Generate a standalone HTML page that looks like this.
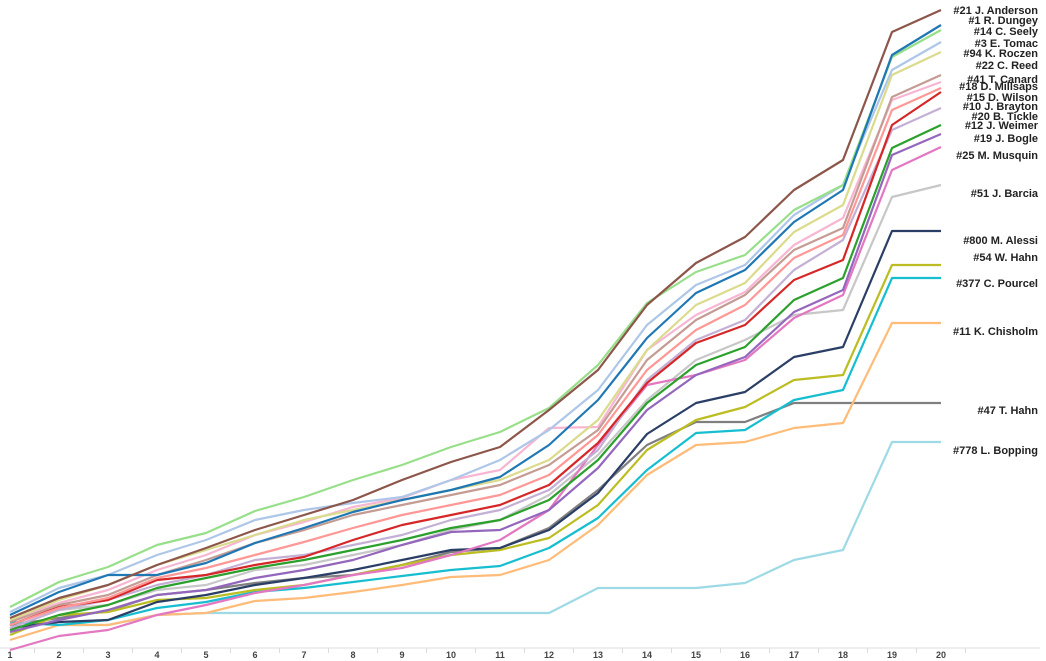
<!DOCTYPE html>
<html><head><meta charset="utf-8"><style>
html,body{margin:0;padding:0;background:#fff;width:1046px;height:661px;overflow:hidden}
svg{display:block}
text{font-family:"Liberation Sans",Arial,sans-serif}
.lb{font-size:11px;fill:#222;text-anchor:end;font-weight:600}
.ax{font-size:9px;font-weight:bold;fill:#444;text-anchor:middle}
</style></head><body>
<svg id="s" width="1046" height="661" viewBox="0 0 1046 661">
<line x1="0" y1="648" x2="1040" y2="648" stroke="#ddd"/>
<g id="tk" stroke="#ddd"></g>
<g id="lines" fill="none" stroke-width="2.2" stroke-linejoin="round"></g>
<g>
<text class="ax" x="10" y="658">1</text><text class="ax" x="59" y="658">2</text><text class="ax" x="108" y="658">3</text><text class="ax" x="157" y="658">4</text><text class="ax" x="206" y="658">5</text><text class="ax" x="255" y="658">6</text><text class="ax" x="304" y="658">7</text><text class="ax" x="353" y="658">8</text><text class="ax" x="402" y="658">9</text><text class="ax" x="451" y="658">10</text><text class="ax" x="500" y="658">11</text><text class="ax" x="549" y="658">12</text><text class="ax" x="598" y="658">13</text><text class="ax" x="647" y="658">14</text><text class="ax" x="696" y="658">15</text><text class="ax" x="745" y="658">16</text><text class="ax" x="794" y="658">17</text><text class="ax" x="843" y="658">18</text><text class="ax" x="892" y="658">19</text><text class="ax" x="941" y="658">20</text>
</g>
<g>
<text class="lb" x="1038" y="14">#21 J. Anderson</text>
<text class="lb" x="1038" y="24">#1 R. Dungey</text>
<text class="lb" x="1038" y="35">#14 C. Seely</text>
<text class="lb" x="1038" y="47">#3 E. Tomac</text>
<text class="lb" x="1038" y="57">#94 K. Roczen</text>
<text class="lb" x="1038" y="69">#22 C. Reed</text>
<text class="lb" x="1038" y="83">#41 T. Canard</text>
<text class="lb" x="1038" y="90">#18 D. Millsaps</text>
<text class="lb" x="1038" y="101">#15 D. Wilson</text>
<text class="lb" x="1038" y="110">#10 J. Brayton</text>
<text class="lb" x="1038" y="120">#20 B. Tickle</text>
<text class="lb" x="1038" y="129">#12 J. Weimer</text>
<text class="lb" x="1038" y="142">#19 J. Bogle</text>
<text class="lb" x="1038" y="159">#25 M. Musquin</text>
<text class="lb" x="1038" y="197">#51 J. Barcia</text>
<text class="lb" x="1038" y="244">#800 M. Alessi</text>
<text class="lb" x="1038" y="261">#54 W. Hahn</text>
<text class="lb" x="1038" y="287">#377 C. Pourcel</text>
<text class="lb" x="1038" y="335">#11 K. Chisholm</text>
<text class="lb" x="1038" y="414">#47 T. Hahn</text>
<text class="lb" x="1038" y="454">#778 L. Bopping</text>
</g>
</svg>
<script>
var S=[
["#9edae5",[623,625,625,615,613,613,613,613,613,613,613,613,588,588,588,583,560,550,442,442]],
["#7f7f7f",[625,618,611,595,590,583,578,575,565,552,548,528,490,445,422,422,403,403,403,403]],
["#ffbb78",[640,625,625,615,613,601,598,592,585,577,575,560,525,475,445,442,428,423,323,323]],
["#17becf",[622,625,620,608,602,592,588,582,576,570,566,548,518,470,433,430,400,390,278,278]],
["#bcbd22",[635,615,612,600,598,590,585,575,565,555,550,538,505,450,420,407,380,375,265,265]],
["#2b3f66",[628,622,620,602,595,585,578,570,560,550,548,530,493,434,403,392,357,347,231,231]],
["#c7c7c7",[628,610,605,590,585,570,565,555,545,530,520,495,455,400,360,340,315,310,197,185]],
["#e377c2",[650,636,630,615,605,593,585,575,568,555,540,510,445,385,375,360,318,295,170,147]],
["#9467bd",[632,620,610,595,590,578,570,560,545,532,530,510,468,410,375,357,312,290,155,134]],
["#2ca02c",[630,615,605,588,578,568,560,550,540,528,520,500,460,403,365,347,300,278,148,125]],
["#c5b0d5",[628,610,600,585,575,560,555,545,535,520,510,490,450,380,340,320,270,240,130,108]],
["#d62728",[625,607,600,580,575,565,557,540,525,515,505,485,443,383,343,325,280,260,125,92]],
["#ff9896",[625,608,598,578,568,555,542,528,515,505,495,475,435,370,330,305,258,235,110,88]],
["#f7b6d2",[620,603,590,570,555,535,522,507,498,480,470,428,427,350,315,292,245,218,100,82]],
["#c49c94",[622,605,595,575,560,543,530,515,505,495,485,465,430,360,320,295,250,228,97,75]],
["#dbdb8d",[620,600,585,565,550,535,520,510,500,490,480,460,420,350,305,283,232,205,75,52]],
["#aec7e8",[612,588,575,555,540,520,510,503,497,480,460,430,390,325,285,265,215,185,70,42]],
["#98df8a",[607,582,567,545,533,511,497,480,465,447,432,408,365,303,272,255,210,185,57,30]],
["#1f77b4",[615,592,575,575,563,543,528,512,500,490,477,445,400,338,293,270,222,190,55,25]],
["#8c564b",[618,598,585,565,548,530,515,500,480,462,447,410,370,305,263,237,190,160,32,10]]];
var g=document.getElementById('lines'),h='';
S.forEach(function(s){var p=s[1].map(function(y,i){return (10+49*i)+','+y}).join(' ');
h+='<polyline stroke="'+s[0]+'" points="'+p+'"/>';});
g.innerHTML=h;
var t='';for(var i=0;i<20;i++){var x=34.5+49*i;t+='<line x1="'+x+'" y1="648" x2="'+x+'" y2="653"/>';}
document.getElementById('tk').innerHTML=t;
</script>
</body></html>
